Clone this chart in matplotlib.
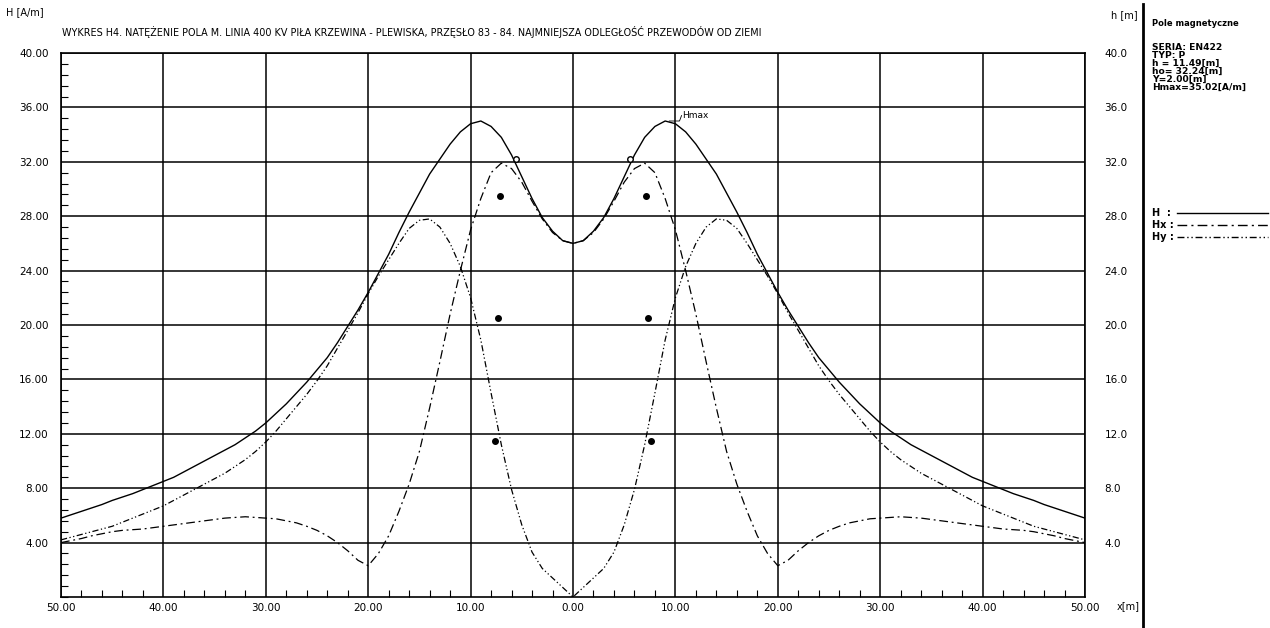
import matplotlib.pyplot as plt
from matplotlib.lines import Line2D
from matplotlib.ticker import MultipleLocator

plt.rcParams['font.family'] = ['Liberation Sans Narrow', 'DejaVu Sans']

# half profile (x >= 0), the chart is symmetric about x = 0
x_half = list(range(0, 51))
h_half = [26.0, 26.2, 26.9, 27.9, 29.3, 30.9, 32.5, 33.8, 34.6, 35.0,
          34.8, 34.2, 33.3, 32.2, 31.1, 29.7, 28.3, 26.8, 25.2, 23.8,
          22.4, 21.1, 19.9, 18.7, 17.6, 16.7, 15.8, 15.0, 14.2, 13.5,
          12.8, 12.2, 11.7, 11.2, 10.8, 10.4, 10.0, 9.6, 9.2, 8.8,
          8.5, 8.2, 7.9, 7.6, 7.35, 7.1, 6.8, 6.55, 6.3, 6.05,
          5.8]
hx_half = [26.0, 26.2, 26.8, 27.8, 29.1, 30.5, 31.5, 31.9, 31.2, 29.3,
           27.0, 24.0, 20.8, 17.3, 13.9, 10.7, 8.3, 6.3, 4.5, 3.2,
           2.3, 2.7, 3.4, 4.0, 4.5, 4.9, 5.2, 5.45, 5.6, 5.75,
           5.8, 5.85, 5.9, 5.85, 5.8, 5.7, 5.6, 5.5, 5.4, 5.3,
           5.2, 5.1, 5.0, 4.95, 4.9, 4.8, 4.65, 4.5, 4.3, 4.15,
           4.0]
hy_half = [0.0, 0.7, 1.4, 2.1, 3.3, 5.3, 7.9, 11.2, 15.0, 18.9,
           22.0, 24.3, 26.0, 27.2, 27.8, 27.7, 27.1, 26.0, 24.8, 23.6,
           22.3, 20.9, 19.6, 18.3, 17.0, 15.9, 14.9, 14.0, 13.1, 12.2,
           11.4, 10.7, 10.1, 9.6, 9.1, 8.7, 8.3, 7.9, 7.5, 7.1,
           6.7, 6.4, 6.1, 5.8, 5.5, 5.2, 5.0, 4.8, 4.6, 4.4,
           4.2]

# conductors and ground wires (x [m], h [m])
cond_x = [-7.1, -7.35, -7.6, 7.1, 7.35, 7.6]
cond_h = [29.5, 20.5, 11.49, 29.5, 20.5, 11.49]
gw_x = [-5.6, 5.6]
gw_h = [32.24, 32.24]

x_ticks = [-50, -40, -30, -20, -10, 0, 10, 20, 30, 40, 50]
x_labels = ['50.00', '40.00', '30.00', '20.00', '10.00', '0.00',
            '10.00', '20.00', '30.00', '40.00', '50.00']
y_ticks = [4, 8, 12, 16, 20, 24, 28, 32, 36, 40]
y_labels = ['4.00', '8.00', '12.00', '16.00', '20.00', '24.00', '28.00',
            '32.00', '36.00', '40.00']
h_labels = ['4.0', '8.0', '12.0', '16.0', '20.0', '24.0', '28.0', '32.0',
            '36.0', '40.0']

info_lines = ['SERIA: EN422', 'TYP: P', 'h = 11.49[m]', 'ho= 32.24[m]',
              'Y=2.00[m]', 'Hmax=35.02[A/m]']

x_full = [-v for v in reversed(x_half[1:])] + x_half
h_full = list(reversed(h_half[1:])) + h_half
hx_full = list(reversed(hx_half[1:])) + hx_half
hy_full = list(reversed(hy_half[1:])) + hy_half

W, H = 1270, 628
fig = plt.figure(figsize=(W / 100, H / 100), dpi=100)
fig.patch.set_facecolor('white')

ax = fig.add_axes([61 / W, 31 / H, 1024 / W, 544 / H])
ax.set_xlim(-50, 50)
ax.set_ylim(0, 40)

hx_style = (0, (7, 3, 1.5, 3))
hy_style = (0, (5, 2, 1, 2, 1, 2))

ax.plot(x_full, h_full, color='black', lw=1.0, zorder=3)
ax.plot(x_full, hx_full, color='black', lw=0.9, linestyle=hx_style, zorder=3)
ax.plot(x_full, hy_full, color='black', lw=0.9, linestyle=hy_style, zorder=3)

ax.plot(cond_x, cond_h, 'o', color='black', markersize=4, zorder=4)
ax.plot(gw_x, gw_h, 'o', markerfacecolor='white', markeredgecolor='black',
        markersize=4, markeredgewidth=1, zorder=4)

# Hmax label
ax.plot([9.4, 10.4, 10.6], [35.0, 35.0, 35.4], color='black', lw=0.6, zorder=4)
ax.text(10.7, 35.1, 'Hmax', fontsize=6.5, va='bottom', ha='left')

ax.set_xticks(x_ticks)
ax.set_xticklabels(x_labels)
ax.set_yticks(y_ticks)
ax.set_yticklabels(y_labels)
ax.xaxis.set_minor_locator(MultipleLocator(2))
ax.yaxis.set_minor_locator(MultipleLocator(0.8))
ax.tick_params(axis='both', which='major', length=0, labelsize=7.5)
ax.tick_params(axis='x', which='major', pad=4)
ax.tick_params(axis='y', which='major', pad=9)
ax.tick_params(axis='both', which='minor', direction='in', length=5, width=0.8)
ax.tick_params(top=False, right=False, which='both')
ax.grid(True, which='major', color='black', lw=1.1)
for s in ax.spines.values():
    s.set_linewidth(1.2)

ax2 = ax.twinx()
ax2.set_ylim(0, 40)
ax2.set_yticks(y_ticks)
ax2.set_yticklabels(h_labels)
ax2.tick_params(axis='y', length=0, pad=14, labelsize=7.5)
for s in ax2.spines.values():
    s.set_visible(False)

# texts around the plot
fig.text(6 / W, 1 - 12 / H, 'H [A/m]', fontsize=7, va='center', ha='left')
fig.text(62 / W, 1 - 32 / H,
         'WYKRES H4. NATĘŻENIE POLA M. LINIA 400 KV PIŁA KRZEWINA - PLEWISKA, '
         'PRZĘSŁO 83 - 84. NAJMNIEJSZA ODLEGŁOŚĆ PRZEWODÓW OD ZIEMI',
         fontsize=6.9, va='center', ha='left')
fig.text(1111 / W, 1 - 15 / H, 'h [m]', fontsize=7, va='center', ha='left')
fig.text(1117 / W, 1 - 606 / H, 'x[m]', fontsize=7, va='center', ha='left')

# separator of the side panel
fig.add_artist(Line2D([1143 / W, 1143 / W], [0, 1 - 4 / H], color='black',
                      lw=2.0, transform=fig.transFigure))

fig.text(1152 / W, 1 - 24 / H, 'Pole magnetyczne', fontsize=6.0,
         fontweight='bold', va='center', ha='left')
for i, line in enumerate(info_lines):
    fig.text(1152 / W, 1 - (47 + 8 * i) / H, line, fontsize=6.6,
             fontweight='bold', va='center', ha='left')

legend_items = [('H  :', '-'), ('Hx :', hx_style), ('Hy :', hy_style)]
for i, (lab, ls) in enumerate(legend_items):
    yy = 1 - (213 + 12 * i) / H
    fig.text(1152 / W, yy, lab, fontsize=7.0, fontweight='bold',
             va='center', ha='left')
    fig.add_artist(Line2D([1177 / W, 1268 / W], [yy, yy], color='black',
                          lw=1.0, linestyle=ls, transform=fig.transFigure))

fig.savefig('out.png', dpi=100, facecolor='white')
